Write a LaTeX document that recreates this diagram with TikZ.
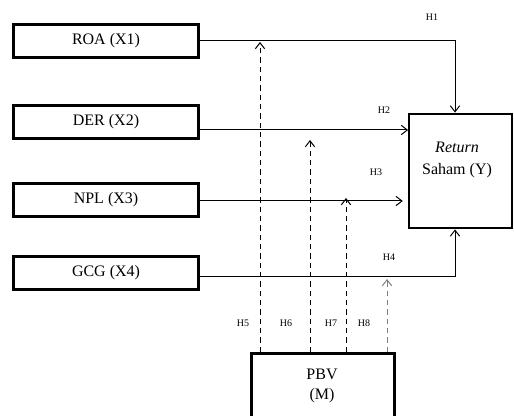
\documentclass[tikz,border=0pt]{standalone}
\usepackage{fontspec}
\setmainfont{Liberation Serif}
\usetikzlibrary{arrows.meta}

\tikzset{every picture/.style={line width=0.75pt}}
\tikzset{
  varbox/.style={draw,line width=2.2pt,minimum width=139pt,minimum height=25pt,inner sep=0pt,font=\fontsize{12}{14}\selectfont},
  hlabel/.style={font=\fontsize{7.5}{9}\selectfont,inner sep=0pt},
  barb/.style={-{Straight Barb[length=4.5pt,width=7pt]}},
  modline/.style={barb,dashed,dash pattern=on 4pt off 3pt}
}

\begin{document}
\begin{tikzpicture}[x=0.75pt,y=0.75pt,yscale=-1,xscale=1]
	\useasboundingbox (0,0) rectangle (514,416);

	%Shape: Rectangle (independent variables)
	\node [varbox] (roa) at (106,41) {ROA (X1)};
	\node [varbox] (der) at (106,122) {DER (X2)};
	\node [varbox] (npl) at (106,200) {NPL (X3)};
	\node [varbox] (gcg) at (106,273) {GCG (X4)};

	%Shape: Rectangle (dependent variable)
	\node [draw,line width=1.6pt,minimum width=77pt,minimum height=86pt,inner sep=0pt] (ret) at (460.5,171) {};
	\node [font=\fontsize{12}{17}\selectfont,align=center] (rettext) at (457,160) {\textit{Return}\\Saham (Y)};

	%Shape: Rectangle (moderator)
	\node [draw,line width=2.2pt,minimum width=107pt,minimum height=58pt,inner sep=0pt] (pbv) at (323,392) {};
	\node [font=\fontsize{12}{14.5}\selectfont,align=center] (pbvtext) at (322,386) {PBV\\(M)};

	%Straight Lines (direct effects)
	\coordinate (k1) at (455,41);
	\coordinate (k4) at (455,277);
	\draw [barb] (roa.east) -- (k1) -- (ret.north -| k1);
	\draw [barb] (der.east |- 0,130) -- (ret.west |- 0,130);
	\draw [barb] (npl.east |- 0,201) -- ([xshift=-4pt]ret.west |- 0,201);
	\draw [barb] (gcg.east |- k4) -- (k4) -- (ret.south -| k4);

	%Straight Lines (moderation, dashed)
	\draw [modline] (pbv.north -| 260,0) -- (260,42);
	\draw [modline] (pbv.north -| 310,0) -- (310,140);
	\draw [modline] (pbv.north -| 346,0) -- (346,198);
	\draw [modline,gray] (pbv.north -| 387,0) -- (387,279);

	% Text Node
	\node [hlabel] (h1) at (432,17) {H1};
	\node [hlabel] (h2) at (384,110) {H2};
	\node [hlabel] (h3) at (376,172) {H3};
	\node [hlabel] (h4) at (389,257) {H4};
	\node [hlabel] (h5) at (243,323) {H5};
	\node [hlabel] (h6) at (286,323) {H6};
	\node [hlabel] (h7) at (331,323) {H7};
	\node [hlabel] (h8) at (364,323) {H8};

\end{tikzpicture}
\end{document}
